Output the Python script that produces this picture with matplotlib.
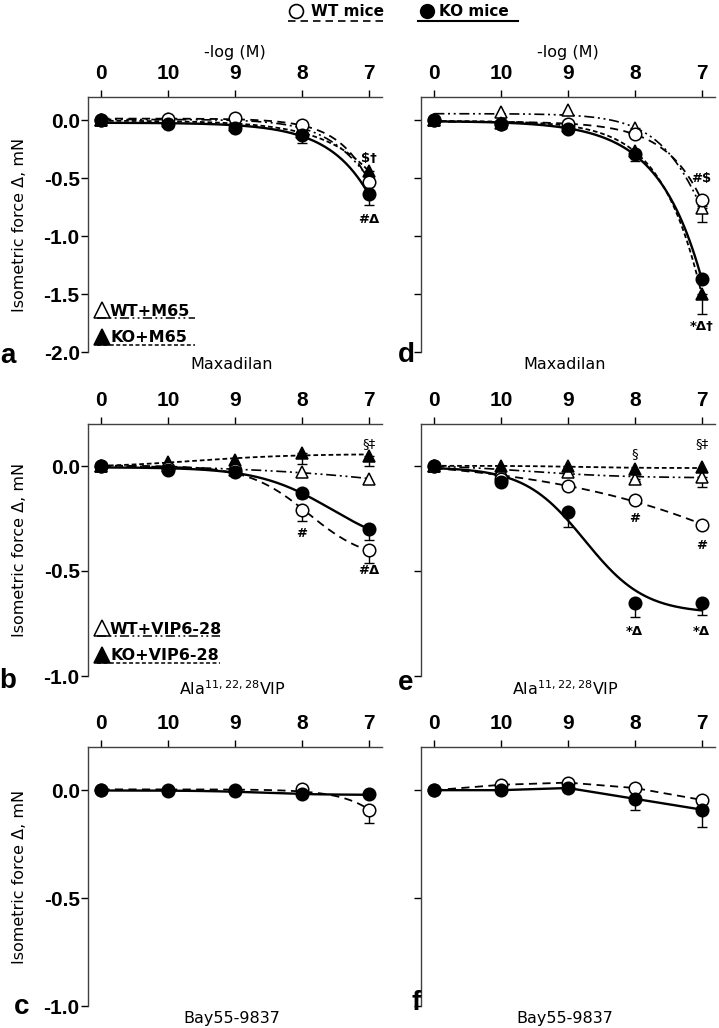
import numpy as np
import matplotlib
matplotlib.use("Agg")
import matplotlib.pyplot as plt

plt.rcParams["font.family"] = ["DejaVu Sans"]
plt.rcParams["mathtext.fontset"] = "custom"
plt.rcParams["mathtext.rm"] = "DejaVu Sans"
plt.rcParams["mathtext.default"] = "rm"

# concentration steps, -log(M); 0 = vehicle
x_labels = ["0", "10", "9", "8", "7"]
xpos = np.arange(len(x_labels))

# Maxadilan (+/- M65)
a_wt = [0.0, 0.01, 0.02, -0.04, -0.53]
a_ko = [0.0, -0.03, -0.07, -0.13, -0.64]
a_wt_ant = [0.0, 0.01, 0.0, -0.07, -0.50]
a_ko_ant = [0.0, -0.01, -0.04, -0.10, -0.44]
a_wt_err = [0, 0, 0, 0.02, 0.04]
a_ko_err = [0, 0.01, 0.02, 0.07, 0.09]
a_wt_ant_err = [0, 0, 0, 0.02, 0.03]
a_ko_ant_err = [0, 0, 0, 0.02, 0.05]

d_wt = [0.0, -0.03, -0.03, -0.12, -0.69]
d_ko = [0.0, -0.03, -0.08, -0.29, -1.37]
d_wt_ant = [0.0, 0.07, 0.09, -0.07, -0.76]
d_ko_ant = [0.0, -0.02, -0.05, -0.27, -1.50]
d_wt_err = [0, 0, 0, 0.03, 0.05]
d_ko_err = [0, 0.01, 0.02, 0.06, 0.03]
d_wt_ant_err = [0, 0, 0, 0.03, 0.12]
d_ko_ant_err = [0, 0, 0, 0.02, 0.17]

# Ala11,22,28VIP (+/- VIP6-28)
b_wt = [0.0, -0.01, -0.02, -0.21, -0.40]
b_ko = [0.0, -0.02, -0.03, -0.13, -0.30]
b_wt_ant = [0.0, 0.0, -0.02, -0.03, -0.06]
b_ko_ant = [0.0, 0.02, 0.03, 0.06, 0.05]
b_wt_err = [0, 0.01, 0.01, 0.05, 0.06]
b_ko_err = [0, 0.01, 0.01, 0.02, 0.05]
b_wt_ant_err = [0, 0, 0, 0, 0]
b_ko_ant_err = [0, 0, 0, 0.05, 0.05]

e_wt = [0.0, -0.06, -0.095, -0.16, -0.28]
e_ko = [0.0, -0.075, -0.22, -0.65, -0.65]
e_wt_ant = [0.0, -0.02, -0.03, -0.06, -0.05]
e_ko_ant = [0.0, 0.0, 0.0, -0.015, -0.005]
e_wt_err = [0, 0, 0.02, 0.01, 0.01]
e_ko_err = [0, 0.01, 0.07, 0.07, 0.06]
e_wt_ant_err = [0, 0, 0, 0.01, 0.05]
e_ko_ant_err = [0, 0, 0, 0, 0]

# Bay55-9837
c_wt = [0.0, 0.0, 0.0, 0.005, -0.09]
c_ko = [0.0, -0.005, -0.005, -0.02, -0.02]
c_wt_err = [0, 0, 0, 0, 0.06]
c_ko_err = [0, 0, 0, 0.01, 0]

f_wt = [0.0, 0.025, 0.035, 0.01, -0.045]
f_ko = [0.0, 0.0, 0.01, -0.04, -0.09]
f_wt_err = [0, 0, 0, 0, 0.01]
f_ko_err = [0, 0, 0, 0.05, 0.08]

# significance marks: (x index, y, text)
a_marks = [(4, -0.33, "$\u2020"), (4, -0.86, "#\u0394")]
d_marks = [(4, -0.50, "#$"), (4, -1.78, "*\u0394\u2020")]
b_marks = [(3, -0.32, "#"), (4, 0.105, "\u00a7\u2021"), (4, -0.50, "#\u0394")]
e_marks = [(3, 0.06, "\u00a7"), (4, 0.105, "\u00a7\u2021"), (3, -0.25, "#"),
           (4, -0.38, "#"), (3, -0.79, "*\u0394"), (4, -0.79, "*\u0394")]

STYLES = {
    "wt": dict(marker="o", mfc="white", ls=(0, (4.5, 3)), lw=1.3, ms=9),
    "ko": dict(marker="o", mfc="black", ls="-", lw=1.7, ms=9),
    "wt_ant": dict(marker="^", mfc="white", ls=(0, (6, 2.2, 1.2, 2.2, 1.2, 2.2)), lw=1.2, ms=8.5),
    "ko_ant": dict(marker="^", mfc="black", ls=(0, (2.6, 1.6)), lw=1.3, ms=8.5),
}

W, H = 719, 1028
fig = plt.figure(figsize=(W / 100, H / 100), dpi=100)


def px_axes(left, top, right, bottom):
    return fig.add_axes([left / W, 1 - bottom / H, (right - left) / W, (bottom - top) / H])


def fit_curve(y, xs):
    """4-parameter logistic fit by grid search on midpoint/slope."""
    y = np.asarray(y, float)
    x0, s = np.meshgrid(np.linspace(-1, 8, 181), np.linspace(0.45, 3, 52))
    x0, s = x0.ravel()[:, None], s.ravel()[:, None]
    g = 1 / (1 + np.exp(-(xpos[None, :] - x0) / s))
    a = 1 - g
    saa, sab, sbb = (a * a).sum(1), (a * g).sum(1), (g * g).sum(1)
    say, sby = (a * y).sum(1), (g * y).sum(1)
    det = saa * sbb - sab ** 2
    ok = det > 1e-8
    det = np.where(ok, det, 1)
    top = (sbb * say - sab * sby) / det
    bot = (saa * sby - sab * say) / det
    res = ((top[:, None] * a + bot[:, None] * g - y) ** 2).sum(1)
    res = np.where(ok, res, np.inf)
    i = np.argmin(res)
    gg = 1 / (1 + np.exp(-(xs - x0[i, 0]) / s[i, 0]))
    return top[i] * (1 - gg) + bot[i] * gg


def draw_panel(ax, series, ylim, yticks, ylabels, fit=True, marks=()):
    xs = np.linspace(0, 4, 200)
    for vals, errs, key in series:
        st = STYLES[key]
        if fit:
            ax.plot(xs, fit_curve(vals, xs), color="black", ls=st["ls"], lw=st["lw"], zorder=2)
        else:
            ax.plot(xpos, vals, color="black", ls=st["ls"], lw=st["lw"], zorder=2)
    for vals, errs, key in series:
        st = STYLES[key]
        errs = np.asarray(errs, float)
        vals = np.asarray(vals, float)
        m = errs > 0
        if m.any():
            # lower error only (SEM drawn downward)
            ax.errorbar(xpos[m], vals[m], yerr=[errs[m], np.zeros(m.sum())], fmt="none",
                        ecolor="black", elinewidth=1, capsize=3.8, capthick=1, zorder=3)
        ax.plot(xpos, vals, ls="none", marker=st["marker"], ms=st["ms"], mfc=st["mfc"],
                mec="black", mew=1.1, zorder=4)
    for xi, yv, txt in marks:
        bold = "bold" if ("\u00a7" not in txt) else "normal"
        ax.text(xi, yv, txt, ha="center", va="center", fontsize=9.5, fontweight=bold, zorder=5)

    ax.set_xlim(-0.2, 4.2)
    ax.set_ylim(*ylim)
    for side in ("right", "bottom"):
        ax.spines[side].set_visible(False)
    for side in ("left", "top"):
        ax.spines[side].set_color("#404040")
        ax.spines[side].set_linewidth(1.0)
    ax.xaxis.tick_top()
    ax.set_xticks(xpos)
    ax.set_xticklabels(x_labels, family="Liberation Sans", fontweight="bold", fontsize=15)
    ax.tick_params(axis="x", direction="out", length=5, width=1, pad=5, colors="black")
    ax.set_yticks(yticks)
    if ylabels:
        ax.set_yticklabels([f"{v:.1f}" for v in yticks], family="Liberation Sans",
                           fontweight="bold", fontsize=15)
        ax.set_ylabel("Isometric force \u0394, mN", fontsize=11.5, labelpad=12)
    else:
        ax.set_yticklabels([])
    ax.tick_params(axis="y", direction="out", length=5, width=1, pad=1)


ax_a = px_axes(88, 97, 382, 352)
ax_d = px_axes(421, 97, 715, 352)
ax_b = px_axes(88, 424, 382, 676)
ax_e = px_axes(421, 424, 715, 676)
ax_c = px_axes(88, 747, 382, 1006)
ax_f = px_axes(421, 747, 715, 1006)

yt_top = [0.0, -0.5, -1.0, -1.5, -2.0]
yt_low = [0.0, -0.5, -1.0]

draw_panel(ax_a, [(a_wt_ant, a_wt_ant_err, "wt_ant"), (a_ko_ant, a_ko_ant_err, "ko_ant"),
                  (a_wt, a_wt_err, "wt"), (a_ko, a_ko_err, "ko")],
           (-2.0, 0.2), yt_top, True, marks=a_marks)
draw_panel(ax_d, [(d_wt_ant, d_wt_ant_err, "wt_ant"), (d_ko_ant, d_ko_ant_err, "ko_ant"),
                  (d_wt, d_wt_err, "wt"), (d_ko, d_ko_err, "ko")],
           (-2.0, 0.2), yt_top, False, marks=d_marks)
draw_panel(ax_b, [(b_wt_ant, b_wt_ant_err, "wt_ant"), (b_ko_ant, b_ko_ant_err, "ko_ant"),
                  (b_wt, b_wt_err, "wt"), (b_ko, b_ko_err, "ko")],
           (-1.0, 0.2), yt_low, True, marks=b_marks)
draw_panel(ax_e, [(e_wt_ant, e_wt_ant_err, "wt_ant"), (e_ko_ant, e_ko_ant_err, "ko_ant"),
                  (e_wt, e_wt_err, "wt"), (e_ko, e_ko_err, "ko")],
           (-1.0, 0.2), yt_low, False, marks=e_marks)
draw_panel(ax_c, [(c_wt, c_wt_err, "wt"), (c_ko, c_ko_err, "ko")],
           (-1.0, 0.2), yt_low, True)
draw_panel(ax_f, [(f_wt, f_wt_err, "wt"), (f_ko, f_ko_err, "ko")],
           (-1.0, 0.2), yt_low, False, fit=False)

for ax in (ax_a, ax_d):
    ax.xaxis.set_label_position("top")
    ax.set_xlabel("-log (M)", fontsize=11.5, labelpad=5)

# agonist names under the panels
for ax, name in [(ax_a, "Maxadilan"), (ax_d, "Maxadilan"),
                 (ax_b, "Ala$^{11,22,28}$VIP"), (ax_e, "Ala$^{11,22,28}$VIP"),
                 (ax_c, "Bay55-9837"), (ax_f, "Bay55-9837")]:
    ax.text(0.49, -0.05, name, transform=ax.transAxes, ha="center", va="center", fontsize=11.5)

# overlay in pixel coordinates for panel letters and legends
ov = fig.add_axes([0, 0, 1, 1], zorder=10)
ov.set_xlim(0, W)
ov.set_ylim(H, 0)
ov.axis("off")

for x, y, t in [(8, 356, "a"), (8, 681, "b"), (22, 1007, "c"),
                (406, 355, "d"), (406, 683, "e"), (416, 1003, "f")]:
    ov.text(x, y, t, ha="center", va="center", family="Liberation Sans",
            fontweight="bold", fontsize=20)

# top legend
ov.plot([296], [11], marker="o", ms=10, mfc="white", mec="black", mew=1.2)
ov.text(311, 12, "WT mice", ha="left", va="center", fontsize=11, fontweight="bold")
ov.plot([288, 388], [21, 21], color="black", lw=1.2, ls=(0, (4.5, 3)))
ov.plot([427], [11], marker="o", ms=10, mfc="black", mec="black")
ov.text(439, 12, "KO mice", ha="left", va="center", fontsize=11, fontweight="bold")
ov.plot([418, 518], [21, 21], color="black", lw=1.5)

# antagonist legends
for y0, label, key, end in [(310, "WT+M65", "wt_ant", 195), (337, "KO+M65", "ko_ant", 195),
                            (628, "WT+VIP6-28", "wt_ant", 220),
                            (655, "KO+VIP6-28", "ko_ant", 220)]:
    st = STYLES[key]
    ov.plot([102], [y0], marker="^", ms=12, mfc=st["mfc"], mec="black", mew=1.1)
    ov.text(110, y0 + 1, label, ha="left", va="center", fontsize=11.5, fontweight="bold")
    ov.plot([97, end], [y0 + 8, y0 + 8], color="black", lw=1.1, ls=st["ls"])

fig.savefig("out.png", dpi=100)
